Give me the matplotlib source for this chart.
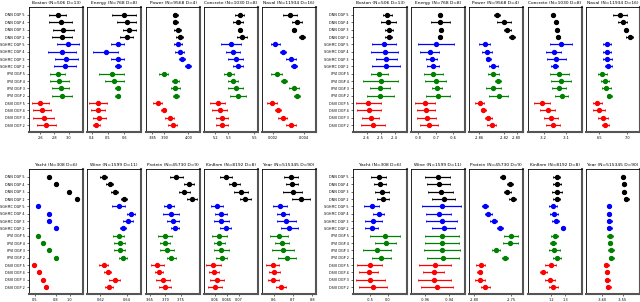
import numpy as np
import matplotlib.pyplot as plt

methods = ['DNN', 'SGHMC', 'IPVI', 'DSVI']
layers = [5, 4, 3, 2]
colors = ['black', 'blue', 'green', 'red']

# ---- test RMSE (mean, std) ----
boston_rmse = [2.847, 2.886, 2.924, 2.904, 2.986, 2.904, 2.967, 2.947,
               2.843, 2.867, 2.886, 2.904, 2.604, 2.624, 2.647, 2.686]
boston_rmse_sd = [0.119, 0.157, 0.143, 0.143, 0.157, 0.2, 0.157, 0.15,
                  0.1, 0.136, 0.114, 0.143, 0.114, 0.129, 0.15, 0.129]
energy_rmse = [0.596, 0.614, 0.631, 0.614, 0.558, 0.485, 0.558, 0.56,
               0.523, 0.539, 0.558, 0.558, 0.441, 0.438, 0.446, 0.429]
energy_rmse_sd = [0.074, 0.058, 0.039, 0.041, 0.039, 0.077, 0.041, 0.017,
                  0.077, 0.058, 0.018, 0.017, 0.055, 0.042, 0.039, 0.023]
power_rmse = [3.946, 3.946, 3.956, 3.963, 3.958, 3.963, 3.973, 3.998,
              3.897, 3.946, 3.945, 3.948, 3.872, 3.897, 3.922, 3.934]
power_rmse_sd = [0.012, 0.011, 0.014, 0.013, 0.016, 0.017, 0.013, 0.013,
                 0.017, 0.014, 0.018, 0.011, 0.018, 0.011, 0.018, 0.018]
concrete_rmse = [5.390, 5.375, 5.390, 5.409, 5.323, 5.339, 5.357, 5.375,
                 5.304, 5.339, 5.357, 5.375, 5.218, 5.234, 5.252, 5.252]
concrete_rmse_sd = [0.035, 0.041, 0.017, 0.038, 0.078, 0.055, 0.056, 0.041,
                    0.039, 0.039, 0.057, 0.059, 0.057, 0.057, 0.043, 0.043]
naval_rmse = [0.003105, 0.003534, 0.003361, 0.003853, 0.002166, 0.002639, 0.003189, 0.00338,
              0.002256, 0.002722, 0.003361, 0.003553, 0.001974, 0.002358, 0.002639, 0.003189]
naval_rmse_sd = [0.000466, 0.000307, 0.000109, 0.000192, 0.000275, 0.000192, 0.00032, 0.000192,
                 0.000364, 0.000192, 0.000339, 0.000204, 0.000307, 0.000192, 0.0003, 0.00032]
yacht_rmse = [0.707, 0.806, 0.997, 1.1, 0.541, 0.707, 0.707, 0.806,
              0.541, 0.609, 0.707, 0.806, 0.487, 0.56, 0.609, 0.663]
yacht_rmse_sd = [0.01, 0.01, 0.01, 0.01, 0.015, 0.015, 0.019, 0.01,
                 0.01, 0.01, 0.015, 0.01, 0.019, 0.01, 0.018, 0.019]
wine_rmse = [0.6225, 0.6272, 0.6308, 0.6379, 0.6338, 0.6433, 0.6408, 0.6372,
             0.6338, 0.6346, 0.6346, 0.6372, 0.6225, 0.6256, 0.6308, 0.6267]
wine_rmse_sd = [0.0025, 0.0025, 0.0028, 0.0025, 0.0046, 0.0029, 0.0038, 0.0025,
                0.0038, 0.0041, 0.004, 0.0027, 0.0035, 0.0027, 0.004, 0.0032]
protein_rmse = [3.736, 3.776, 3.762, 3.787, 3.712, 3.718, 3.724, 3.731,
                3.699, 3.699, 3.706, 3.719, 3.674, 3.68, 3.693, 3.699]
protein_rmse_sd = [0.02, 0.016, 0.019, 0.017, 0.016, 0.026, 0.02, 0.014,
                   0.022, 0.016, 0.022, 0.015, 0.021, 0.013, 0.023, 0.021]
kin8nm_rmse = [0.0645, 0.0681, 0.0708, 0.0728, 0.0608, 0.0626, 0.0626, 0.0645,
               0.0618, 0.0618, 0.0626, 0.0628, 0.0592, 0.0595, 0.0608, 0.0599]
kin8nm_rmse_sd = [0.00245, 0.00236, 0.003, 0.00223, 0.00236, 0.00245, 0.00309, 0.00227,
                  0.00322, 0.00236, 0.00313, 0.00223, 0.00313, 0.00223, 0.003, 0.00287]
year_rmse = [8.690, 8.695, 8.698, 8.740, 8.633, 8.649, 8.666, 8.681,
             8.628, 8.642, 8.650, 8.669, 8.596, 8.604, 8.599, 8.638]
year_rmse_sd = [0.037, 0.032, 0.05, 0.045, 0.036, 0.032, 0.05, 0.045,
                0.045, 0.036, 0.056, 0.047, 0.032, 0.028, 0.027, 0.025]

# ---- test log-likelihood (mean, std) ----
boston_ll = [-2.453, -2.446, -2.439, -2.443, -2.476, -2.471, -2.46, -2.464,
             -2.51, -2.5, -2.507, -2.503, -2.589, -2.584, -2.571, -2.557]
boston_ll_sd = [0.034, 0.052, 0.027, 0.024, 0.087, 0.098, 0.077, 0.101,
                0.059, 0.123, 0.071, 0.095, 0.091, 0.086, 0.061, 0.086]
energy_ll = [-0.676, -0.674, -0.672, -0.674, -0.699, -0.736, -0.724, -0.715,
             -0.715, -0.701, -0.693, -0.687, -0.763, -0.757, -0.753, -0.738]
energy_ll_sd = [0.008, 0.055, 0.008, 0.008, 0.102, 0.052, 0.032, 0.033,
                0.054, 0.06, 0.03, 0.068, 0.057, 0.053, 0.055, 0.052]
power_ll = [-2.831, -2.820, -2.815, -2.807, -2.851, -2.847, -2.845, -2.837,
            -2.837, -2.830, -2.837, -2.829, -2.859, -2.853, -2.845, -2.840]
power_ll_sd = [0.0048, 0.0114, 0.0059, 0.0048, 0.0087, 0.0083, 0.004, 0.0071,
               0.0087, 0.0043, 0.0119, 0.0148, 0.0068, 0.004, 0.0059, 0.0071]
concrete_ll = [-3.160, -3.145, -3.140, -3.1375, -3.124, -3.155, -3.145, -3.152,
               -3.131, -3.124, -3.131, -3.121, -3.207, -3.182, -3.169, -3.157]
concrete_ll_sd = [0.006, 0.006, 0.0067, 0.0054, 0.05, 0.033, 0.041, 0.0165,
                  0.042, 0.045, 0.031, 0.028, 0.033, 0.033, 0.03, 0.031]
naval_ll = [6.866, 6.915, 6.982, 7.036, 6.639, 6.644, 6.639, 6.657,
            6.554, 6.603, 6.621, 6.68, 6.464, 6.495, 6.56, 6.608]
naval_ll_sd = [0.126, 0.076, 0.022, 0.06, 0.076, 0.069, 0.081, 0.06,
               0.085, 0.072, 0.081, 0.051, 0.078, 0.105, 0.087, 0.06]
yacht_ll = [-0.258, -0.214, -0.167, -0.131, -0.453, -0.258, -0.408, -0.453,
            -0.075, -0.064, -0.297, -0.186, -0.508, -0.536, -0.492, -0.408]
yacht_ll_sd = [0.203, 0.167, 0.186, 0.161, 0.217, 0.158, 0.242, 0.172,
               0.422, 0.297, 0.394, 0.272, 0.347, 0.269, 0.397, 0.389]
wine_ll = [-0.9496, -0.949, -0.9473, -0.9448, -0.9462, -0.9488, -0.9465, -0.9448,
           -0.9462, -0.9462, -0.9459, -0.9451, -0.9522, -0.953, -0.9524, -0.9505]
wine_ll_sd = [0.0104, 0.0097, 0.0101, 0.0093, 0.0162, 0.0105, 0.0129, 0.0093,
              0.0141, 0.0138, 0.0149, 0.0133, 0.0133, 0.0087, 0.0133, 0.0133]
protein_ll = [-2.7612, -2.7514, -2.755, -2.7477, -2.7851, -2.7807, -2.7734, -2.7653,
              -2.7496, -2.751, -2.7703, -2.7581, -2.791, -2.7923, -2.7919, -2.7847]
protein_ll_sd = [0.0036, 0.0041, 0.0047, 0.0045, 0.0045, 0.005, 0.0047, 0.0041,
                 0.0097, 0.0099, 0.0054, 0.0041, 0.0058, 0.0034, 0.0065, 0.0058]
kin8nm_ll = [1.2376, 1.2399, 1.2399, 1.2376, 1.2098, 1.2203, 1.2301, 1.285,
             1.2248, 1.2128, 1.2203, 1.2429, 1.1947, 1.1398, 1.1902, 1.215]
kin8nm_ll_sd = [0.025, 0.0278, 0.0391, 0.0226, 0.03, 0.03, 0.025, 0.0128,
                0.0263, 0.0203, 0.04, 0.0278, 0.04, 0.0278, 0.0376, 0.0361]
year_ll = [-3.5482, -3.5467, -3.5467, -3.5407, -3.5832, -3.5832, -3.5825, -3.5825,
           -3.5817, -3.58, -3.5792, -3.5775, -3.59, -3.5882, -3.5875, -3.585]
year_ll_sd = [0.0045, 0.0045, 0.0055, 0.005, 0.0043, 0.0045, 0.0058, 0.0068,
              0.0068, 0.005, 0.007, 0.0063, 0.0058, 0.0058, 0.0068, 0.0058]

top_titles = ['Boston (N=506 D=13)', 'Energy (N=768 D=8)', 'Power (N=9568 D=4)',
              'Concrete (N=1030 D=8)', 'Naval (N=11934 D=16)']
bottom_titles = ['Yacht (N=308 D=6)', 'Wine (N=1599 D=11)', 'Protein (N=45730 D=9)',
                 'Kin8nm (N=8192 D=8)', 'Year (N=515345 D=90)']

# (mean, sd, xlim, ticks, tick labels)
rmse_top = [
    (boston_rmse, boston_rmse_sd, (2.443, 3.2), [2.6, 2.8, 3.0], ['2.6', '2.8', '3.0']),
    (energy_rmse, energy_rmse_sd, (0.371, 0.702), [0.4, 0.5, 0.6], ['0.4', '0.5', '0.6']),
    (power_rmse, power_rmse_sd, (3.824, 4.048), [3.85, 3.90, 4.00], ['3.85', '3.90', '4.00']),
    (concrete_rmse, concrete_rmse_sd, (5.114, 5.529), [5.2, 5.3, 5.5], ['5.2', '5.3', '5.5']),
    (naval_rmse, naval_rmse_sd, (0.001316, 0.004767), [0.002, 0.004], ['0.002', '0.004']),
]
ll_top = [
    (boston_ll, boston_ll_sd, (-2.698, -2.312), [-2.6, -2.5, -2.4], ['-2.6', '-2.5', '-2.4']),
    (energy_ll, energy_ll_sd, (-0.842, -0.534), [-0.8, -0.7, -0.6], ['-0.8', '-0.7', '-0.6']),
    (power_ll, power_ll_sd, (-2.876, -2.790), [-2.86, -2.82, -2.80], ['-2.86', '-2.82', '-2.80']),
    (concrete_ll, concrete_ll_sd, (-3.268, -3.032), [-3.2, -3.1], ['-3.2', '-3.1']),
    (naval_ll, naval_ll_sd, (6.265, 7.222), [6.5, 7.0], ['6.5', '7.0']),
]
rmse_bottom = [
    (yacht_rmse, yacht_rmse_sd, (0.413, 1.193), [0.5, 0.8, 1.0], ['0.5', '0.8', '1.0']),
    (wine_rmse, wine_rmse_sd, (0.610, 0.6508), [0.62, 0.64], ['0.62', '0.64']),
    (protein_rmse, protein_rmse_sd, (3.637, 3.813), [3.65, 3.70, 3.75], ['3.65', '3.70', '3.75']),
    (kin8nm_rmse, kin8nm_rmse_sd, (0.05535, 0.07809), [0.060, 0.065, 0.070], ['0.06', '0.065', '0.07']),
    (year_rmse, year_rmse_sd, (8.541, 8.818), [8.6, 8.7, 8.8], ['8.6', '8.7', '8.8']),
]
ll_bottom = [
    (yacht_ll, yacht_ll_sd, (-0.972, 0.528), [-0.5, 0.0], ['-0.5', '0.0']),
    (wine_ll, wine_ll_sd, (-0.9718, -0.9271), [-0.96, -0.94], ['-0.96', '-0.94']),
    (protein_ll, protein_ll_sd, (-2.8068, -2.7338), [-2.80, -2.75], ['-2.80', '-2.75']),
    (kin8nm_ll, kin8nm_ll_sd, (1.027, 1.4256), [1.2, 1.3], ['1.2', '1.3']),
    (year_ll, year_ll_sd, (-3.64, -3.5075), [-3.60, -3.55], ['-3.60', '-3.55']),
]

row_labels = [f'{m} DGP {k}' for m in methods for k in layers]
row_colors = [c for c in colors for _ in layers]
rows = np.arange(len(row_labels))

W, H = 640, 302
fig = plt.figure(figsize=(W / 100, H / 100), dpi=100)

left_px = [29, 87, 146, 204, 262]
right_px = [353, 411, 469, 528, 586]
top_y, bottom_y = 7, 169   # top edge of axes rows (pixels)
ax_w, ax_h = 54, 125


def draw_group(xs, y0, panels, titles):
    for j, (x0, (mean, sd, xlim, ticks, tlabels), title) in enumerate(zip(xs, panels, titles)):
        ax = fig.add_axes([x0 / W, 1 - (y0 + ax_h) / H, ax_w / W, ax_h / H])
        for i in rows:
            ax.errorbar(mean[i], i, xerr=sd[i], fmt='o', color=row_colors[i],
                        ms=2.8, elinewidth=0.9, capsize=1.0, capthick=0.6)
        ax.set_ylim(15.95, -1.09)
        ax.set_xlim(*xlim)
        ax.set_xticks(ticks)
        ax.set_xticklabels(tlabels)
        ax.tick_params(axis='x', labelsize=2.5, length=1.5, width=0.4, pad=1.5)
        if j == 0:
            ax.set_yticks(rows)
            ax.set_yticklabels(row_labels)
            ax.tick_params(axis='y', labelsize=2.4, length=1.5, width=0.4, pad=1.5)
        else:
            ax.set_yticks([])
        ax.set_title(title, fontsize=3.2, pad=2)
        for s in ['left', 'top']:
            ax.spines[s].set_linewidth(0.6)
        for s in ['right', 'bottom']:
            ax.spines[s].set_linewidth(1.5)
            ax.spines[s].set_color('#555555')


draw_group(left_px, top_y, rmse_top, top_titles)
draw_group(right_px, top_y, ll_top, top_titles)
draw_group(left_px, bottom_y, rmse_bottom, bottom_titles)
draw_group(right_px, bottom_y, ll_bottom, bottom_titles)

fig.savefig('out.png', dpi=100)
